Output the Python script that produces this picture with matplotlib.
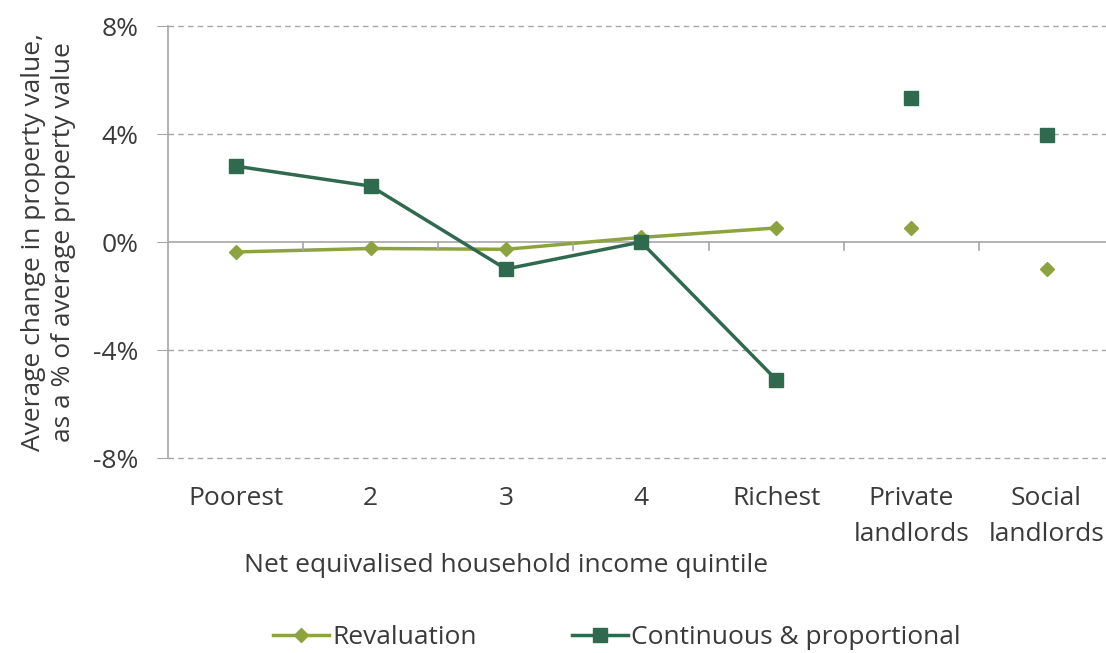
import matplotlib.pyplot as plt
import numpy as np

plt.rcParams['font.family'] = ['Open Sans', 'DejaVu Sans']

categories = ['Poorest', '2', '3', '4', 'Richest', 'Private\nlandlords', 'Social\nlandlords']
revaluation = [-0.37, -0.24, -0.27, 0.17, 0.52, 0.52, -1.0]
continuous = [2.81, 2.07, -1.0, 0.0, -5.1, 5.33, 3.96]
yticks = [-8, -4, 0, 4, 8]

light = '#8da33f'
dark = '#2f6a4f'
grey = '#a6a6a6'
txt = '#3a3a3a'
fs = 19

fig = plt.figure(figsize=(11.06, 6.53), dpi=100)
ax = fig.add_axes([168 / 1106, 195 / 653, 1 - 168 / 1106, 432 / 653])

x = np.arange(len(categories))
n = 5  # quintiles joined by lines, landlords as single points
ax.plot(x[:n], revaluation[:n], color=light, lw=2.5, marker='D', ms=7.5, label='Revaluation')
ax.plot(x[n:], revaluation[n:], color=light, lw=0, marker='D', ms=7.5)
ax.plot(x[:n], continuous[:n], color=dark, lw=2.5, marker='s', ms=10, label='Continuous & proportional')
ax.plot(x[n:], continuous[n:], color=dark, lw=0, marker='s', ms=10)

ax.set_xlim(-0.5, 6.44)
ax.set_ylim(-8, 8)
ax.set_yticks(yticks)
ax.set_yticklabels([f'{v}%' for v in yticks], fontsize=fs, color=txt)
ax.set_xticks(x)
ax.set_xticklabels(categories, fontsize=fs, color=txt, linespacing=1.6, va='top')
ax.tick_params(axis='x', length=0, pad=20)
ax.tick_params(axis='y', length=8, color=grey, pad=13)

# category separators on the zero line
for b in np.arange(0.5, 7, 1):
    ax.plot([b, b], [0, -0.3], color=grey, lw=1.2, clip_on=False)

for v in yticks:
    if v == 0:
        ax.axhline(v, color=grey, lw=1.2, zorder=0)
    else:
        ax.axhline(v, color=grey, lw=1.0, ls=(0, (4, 3)), zorder=0, clip_on=False)

for s in ['top', 'right', 'bottom']:
    ax.spines[s].set_visible(False)
ax.spines['left'].set_color(grey)
ax.spines['left'].set_linewidth(1.2)

ax.set_ylabel('Average change in property value,\nas a % of average property value',
              fontsize=fs, color=txt, linespacing=1.25)
ax.yaxis.set_label_coords(-(168 - 76) / (1106 - 168), 0.5)
ax.set_xlabel('Net equivalised household income quintile', fontsize=fs, color=txt, va='center')
ax.xaxis.set_label_coords((506 - 168) / (1106 - 168), -(565 - 458) / 432)

leg = fig.legend(loc='center', bbox_to_anchor=(0.558, 0.024), ncol=2, frameon=False,
                 fontsize=fs, handlelength=2.1, columnspacing=3.6, handletextpad=0.15)
for t in leg.get_texts():
    t.set_color(txt)

fig.savefig('out.png', dpi=100)
